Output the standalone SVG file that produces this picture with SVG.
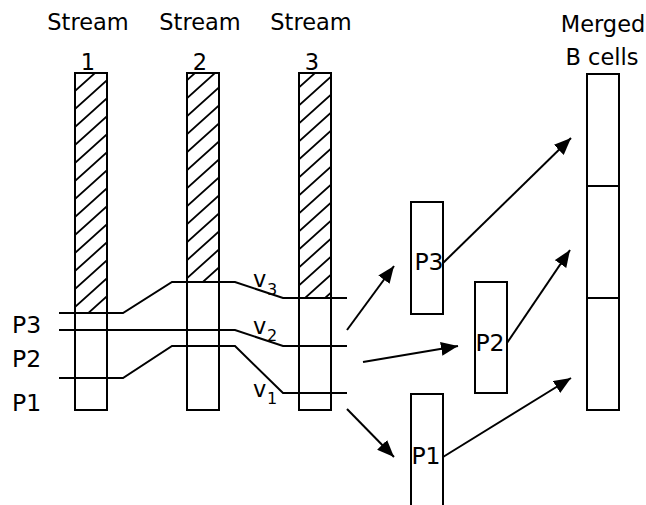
<svg xmlns="http://www.w3.org/2000/svg" width="646" height="505" viewBox="0 0 646 505">
<defs>
<pattern id="hatch" patternUnits="userSpaceOnUse" x="75" y="73" width="20" height="18">
<path d="M0,18 L20,0 M-4,3.6 L4,-3.6 M16,21.6 L24,14.4" stroke="#000" stroke-width="1.8"/>
</pattern>
<marker id="ah" markerUnits="userSpaceOnUse" markerWidth="18" markerHeight="14" refX="17" refY="7" orient="auto">
<path d="M0,0 L17,7 L0,14 z" fill="#000"/>
</marker>
</defs>
<style>
text{font-family:"DejaVu Sans","Liberation Sans",sans-serif;font-size:22.5px;fill:#000;text-anchor:middle}
.box{fill:#fff;stroke:#000;stroke-width:2}
.ln{fill:none;stroke:#000;stroke-width:2}
.arr{fill:none;stroke:#000;stroke-width:2;marker-end:url(#ah)}
.sub{font-size:16px;text-anchor:start}
.v{text-anchor:start}
.lab{text-anchor:start;font-size:23.5px}
.in{font-size:23.5px}
</style>
<g id="stream1">
<text x="88" y="30">Stream</text>
<text x="88" y="70">1</text>
<rect class="box" x="75" y="73" width="32" height="337"/>
<rect x="75" y="73" width="32" height="240" fill="url(#hatch)" stroke="#000" stroke-width="2"/>
</g>
<g id="stream2">
<text x="200" y="30">Stream</text>
<text x="200" y="70">2</text>
<rect class="box" x="187" y="73" width="32" height="337"/>
<rect x="187" y="73" width="32" height="209" fill="url(#hatch)" stroke="#000" stroke-width="2"/>
</g>
<g id="stream3">
<text x="311" y="30">Stream</text>
<text x="312" y="70">3</text>
<rect class="box" x="299" y="73" width="32" height="337"/>
<rect x="299" y="73" width="32" height="225" fill="url(#hatch)" stroke="#000" stroke-width="2"/>
</g>
<g id="merged">
<text x="603" y="32">Merged</text>
<text x="602" y="65">B cells</text>
<rect class="box" x="587" y="74" width="32" height="336"/>
<line class="ln" x1="587" y1="186" x2="619" y2="186"/>
<line class="ln" x1="587" y1="298" x2="619" y2="298"/>
</g>
<g id="p-labels">
<text class="lab" x="12" y="333">P3</text>
<text class="lab" x="12" y="367">P2</text>
<text class="lab" x="12" y="411">P1</text>
</g>
<g id="v-labels">
<text class="v" x="253" y="287">v</text><text class="sub" x="267" y="295">3</text>
<text class="v" x="253" y="334">v</text><text class="sub" x="267" y="341">2</text>
<text class="v" x="253" y="397">v</text><text class="sub" x="267" y="404">1</text>
</g>
<g id="boxP3">
<rect class="box" x="411" y="202" width="32" height="112"/>
<text class="in" x="429" y="270">P3</text>
</g>
<g id="boxP2">
<rect class="box" x="475" y="282" width="32" height="111"/>
<text class="in" x="490" y="351">P2</text>
</g>
<g id="boxP1">
<rect class="box" x="411" y="394" width="32" height="115"/>
<text class="in" x="426" y="464">P1</text>
</g>
<g id="connectors">
<path class="ln" d="M59,313 L123,313 L172,282 L235,282 L283,298 L347,298"/>
<path class="ln" d="M59,330 L235,330 L283,346 L347,346"/>
<path class="ln" d="M59,378 L123,378 L172,346 L235,346 L283,393 L347,393"/>
<line class="arr" x1="347" y1="330" x2="394" y2="266"/>
<line class="arr" x1="363" y1="362" x2="458" y2="346"/>
<line class="arr" x1="347" y1="409" x2="394" y2="457"/>
<line class="arr" x1="443" y1="263" x2="571" y2="138"/>
<line class="arr" x1="507" y1="343" x2="570" y2="250"/>
<line class="arr" x1="443" y1="457" x2="571" y2="378"/>
</g>
</svg>
